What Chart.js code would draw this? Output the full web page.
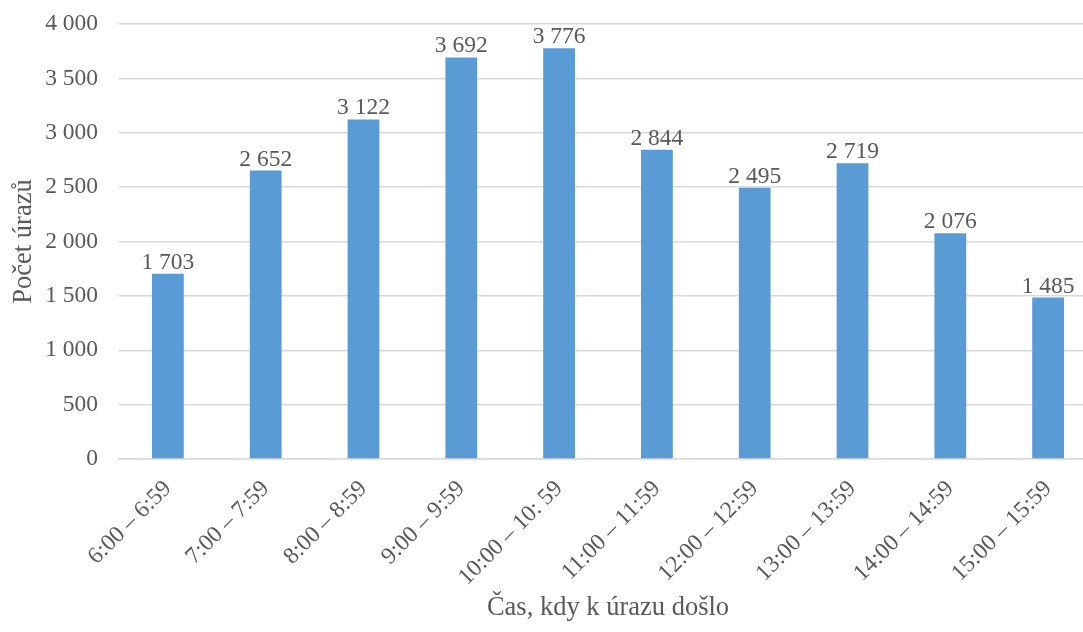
<!DOCTYPE html>
<html>
<head>
<meta charset="utf-8">
<script src="https://cdn.jsdelivr.net/npm/chart.js@4"></script>
<style>
html,body{margin:0;padding:0;background:#fff;overflow:hidden;}
#wrap{width:1083px;height:632px;overflow:hidden;}
</style>
</head>
<body>
<div id="wrap"><canvas id="c" width="1097" height="632"></canvas></div>
<script>
const categories = ["6:00 – 6:59","7:00 – 7:59","8:00 – 8:59","9:00 – 9:59","10:00 – 10: 59","11:00 – 11:59","12:00 – 12:59","13:00 – 13:59","14:00 – 14:59","15:00 – 15:59"];
const injuries = [1703, 2652, 3122, 3692, 3776, 2844, 2495, 2719, 2076, 1485];
const yTicks = [0, 500, 1000, 1500, 2000, 2500, 3000, 3500, 4000];
const yTitle = "Počet úrazů";
const xTitle = "Čas, kdy k úrazu došlo";

const FONT = "'Liberation Serif', 'Times New Roman', serif";
const TXT = "#595959";
function fmt(v){ return String(v).replace(/\B(?=(\d{3})+(?!\d))/g, " "); }

const labelPlugin = {
  id: 'barLabels',
  afterDatasetsDraw(chart){
    const ctx = chart.ctx;
    const meta = chart.getDatasetMeta(0);
    ctx.save();
    ctx.font = "23.5px " + FONT;
    ctx.fillStyle = TXT;
    ctx.textAlign = "center";
    ctx.textBaseline = "alphabetic";
    meta.data.forEach((bar, i) => {
      ctx.fillText(fmt(injuries[i]), bar.x, bar.y - 5);
    });
    ctx.restore();
  }
};

new Chart(document.getElementById('c'), {
  type: 'bar',
  data: {
    labels: categories,
    datasets: [{
      data: injuries,
      backgroundColor: '#5B9BD5',
      categoryPercentage: 1.0,
      barPercentage: 0.325
    }]
  },
  options: {
    responsive: false,
    animation: false,
    devicePixelRatio: 1,
    layout: { padding: { top: 24, right: 0, left: 0, bottom: 0 } },
    plugins: { legend: { display: false }, tooltip: { enabled: false } },
    scales: {
      x: {
        afterFit: s => { s.height = 632 - 459; s.paddingLeft = 0; s.paddingRight = 0; },
        grid: { display: false, drawTicks: false },
        border: { color: '#d9d9d9', width: 1.5 },
        ticks: { color: TXT, font: { family: FONT, size: 23.5 }, minRotation: 45, maxRotation: 45, padding: 16, autoSkip: false },
        title: { display: true, text: xTitle, color: TXT, font: { family: FONT, size: 26.5 }, padding: { top: 4, bottom: 8 } }
      },
      y: {
        min: 0, max: 4000,
        afterFit: s => { s.width = 119; s.paddingTop = 0; s.paddingBottom = 0; },
        afterBuildTicks: s => { s.ticks = yTicks.map(v => ({ value: v })); },
        grid: { color: '#d9d9d9', lineWidth: 1.5, drawTicks: false },
        border: { display: false },
        ticks: { color: TXT, font: { family: FONT, size: 23.5 }, padding: 21, callback: v => fmt(v) },
        title: { display: true, text: yTitle, color: TXT, font: { family: FONT, size: 26.5 }, padding: { top: 8, bottom: 4 } }
      }
    }
  },
  plugins: [labelPlugin]
});
</script>
</body>
</html>
